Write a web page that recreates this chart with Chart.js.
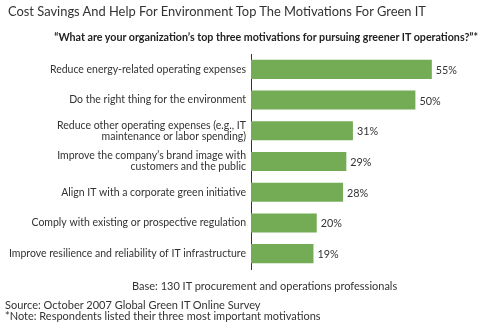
<!DOCTYPE html>
<html>
<head>
<meta charset="utf-8">
<script src="https://cdn.jsdelivr.net/npm/chart.js@4"></script>
<style>
  html, body { margin: 0; padding: 0; background: #fff; }
  #wrap { position: relative; width: 480px; height: 322px; overflow: hidden; font-family: Lato, "Open Sans", sans-serif; color: #333; }
  #chart { position: absolute; left: 0; top: 0; }
  .t { position: absolute; white-space: nowrap; line-height: 1; }
  #title { left: 8px; top: 5px; font-size: 12.9px; }
  #subtitle { right: 2px; top: 32px; font-size: 10.7px; font-weight: bold; color: #222; }
  #base { left: 132px; top: 280px; font-size: 11px; }
  #source { left: 5px; top: 299px; font-size: 11px; }
  #note { left: 5px; top: 310px; font-size: 11px; }
</style>
</head>
<body>
<div id="wrap">
  <canvas id="chart" width="480" height="322"></canvas>
  <div class="t" id="title">Cost Savings And Help For Environment Top The Motivations For Green IT</div>
  <div class="t" id="subtitle">“What are your organization’s top three motivations for pursuing greener IT operations?”*</div>
  <div class="t" id="base">Base: 130 IT procurement and operations professionals</div>
  <div class="t" id="source">Source: October 2007 Global Green IT Online Survey</div>
  <div class="t" id="note">*Note: Respondents listed their three most important motivations</div>
</div>
<script>
// Survey motivations (multi-line entries are wrapped labels)
const motivations = [
  "Reduce energy-related operating expenses",
  "Do the right thing for the environment",
  ["Reduce other operating expenses (e.g., IT", "maintenance or labor spending)"],
  ["Improve the company’s brand image with", "customers and the public"],
  "Align IT with a corporate green initiative",
  "Comply with existing or prospective regulation",
  "Improve resilience and reliability of IT infrastructure"
];
// Share of respondents naming each motivation (%)
const shares = [55, 50, 31, 29, 28, 20, 19];

const textColor = "#333";
const labelFont = { family: "Lato, 'Open Sans', sans-serif", size: 10.5, lineHeight: 1.05 };

// Writes "NN%" just past the end of each bar
const valueLabels = {
  id: "valueLabels",
  afterDatasetsDraw(chart) {
    const ctx = chart.ctx;
    const meta = chart.getDatasetMeta(0);
    ctx.save();
    ctx.font = "10.8px Lato, 'Open Sans', sans-serif";
    ctx.fillStyle = textColor;
    ctx.textAlign = "left";
    ctx.textBaseline = "middle";
    meta.data.forEach((bar, i) => {
      ctx.fillText(shares[i] + "%", bar.x + 4, bar.y + 1);
    });
    ctx.restore();
  }
};

new Chart(document.getElementById("chart"), {
  type: "bar",
  data: {
    labels: motivations,
    datasets: [{
      data: shares,
      backgroundColor: "#74ac56",
      borderWidth: 0,
      categoryPercentage: 1.0,
      barPercentage: 0.62
    }]
  },
  options: {
    indexAxis: "y",
    responsive: false,
    animation: false,
    layout: { padding: { top: 54, bottom: 53, left: 0, right: 12 } },
    plugins: { legend: { display: false }, tooltip: { enabled: false } },
    scales: {
      x: { display: false, min: 0, max: 66 },
      y: {
        afterFit(scale) { scale.width = 251; },
        grid: { display: false, drawTicks: false },
        border: { display: true, color: "#333", width: 1 },
        ticks: {
          color: textColor,
          font: labelFont,
          padding: 5,
          crossAlign: "near"
        }
      }
    }
  },
  plugins: [valueLabels]
});
</script>
</body>
</html>
